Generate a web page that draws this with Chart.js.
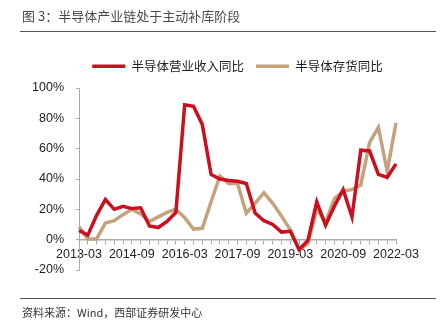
<!DOCTYPE html>
<html>
<head>
<meta charset="utf-8">
<script src="https://cdn.jsdelivr.net/npm/chart.js@4.4.0/dist/chart.umd.min.js"></script>
<style>
    body { margin: 0; background: #fff; }
    #wrap { position: relative; width: 442px; height: 327px; overflow: hidden; }
    #grafico { position: absolute; left: 0; top: 0; }
    .titulo { position: absolute; left: 22px; top: 6px; font: 13px "Noto Sans CJK SC"; color: #4a4a4a; }
    .fuente { position: absolute; left: 22px; top: 304px; font: 11px "Noto Sans CJK SC"; color: #333; }
    .regla { position: absolute; left: 20px; width: 416px; height: 1px; background: #555; }
</style>
</head>
<body>
<div id="wrap">
    <canvas id="grafico" width="442" height="327"></canvas>
    <div class="titulo">图 3：半导体产业链处于主动补库阶段</div>
    <div class="regla" style="top:31px"></div>
    <div class="regla" style="top:298px"></div>
    <div class="fuente">资料来源：Wind，西部证券研发中心</div>
</div>
<script>
// 季度标签 2013-03 ... 2022-03
const trimestres = [];
for (let a = 2013; a <= 2022; a++) {
    ['03', '06', '09', '12'].forEach(m => trimestres.push(a + '-' + m));
}
trimestres.length = 37;

// 数值读自原图 (%)
const ingresos = [6, 3, 16, 26.5, 20, 22, 20.5, 21, 9, 8, 12, 18, 89, 88, 76, 43, 40, 39, 38.5, 37,
    17.5, 12.5, 10, 5, 5.5, -6.5, -0.5, 25, 9.5, 22, 33, 15, 59, 58.5, 43, 41, 50];
const existencias = [8.5, 0.5, 0.5, 11, 12.5, 16.5, 20, 17, 12, 15, 18, 20, 14.5, 7, 7.5, 25, 42, 37, 37, 17.5,
    24, 31, 24, 15.5, 6.5, -7, -2.5, 20, 11.5, 27, 32, 33, 36, 64, 74, 45, 77];
const seriesNombres = ['半导体营业收入同比', '半导体存货同比'];
const colores = ['#CC0E1E', '#C4A27C'];

// deja un poco más de aire bajo la leyenda
const espacioLeyenda = {
    id: 'espacioLeyenda',
    beforeLayout(chart) {
        const lg = chart.legend;
        if (lg && !lg._parcheado) {
            const fitOrig = lg.fit;
            lg.fit = function () { fitOrig.call(this); this.height += 5.5; };
            lg._parcheado = true;
        }
    }
};

new Chart(document.getElementById('grafico').getContext('2d'), {
    type: 'line',
    data: {
        labels: trimestres,
        datasets: [
            { label: seriesNombres[0], data: ingresos, borderColor: colores[0], backgroundColor: colores[0], borderWidth: 3.5, pointRadius: 0, tension: 0 },
            { label: seriesNombres[1], data: existencias, borderColor: colores[1], backgroundColor: colores[1], borderWidth: 3.5, pointRadius: 0, tension: 0 }
        ]
    },
    options: {
        responsive: false,
        animation: false,
        layout: { padding: { left: 0, right: 46, top: 48, bottom: 57 } },
        plugins: {
            tooltip: { enabled: false },
            legend: {
                position: 'top',
                fullSize: false,
                labels: {
                    boxWidth: 33,
                    boxHeight: 3.5,
                    padding: 12,
                    color: '#222',
                    font: { family: 'Noto Sans CJK SC', size: 12.5 },
                    generateLabels: (chart) => Chart.defaults.plugins.legend.labels.generateLabels(chart).map(l => ({ ...l, lineWidth: 0 }))
                }
            }
        },
        scales: {
            x: {
                position: { y: 0 },
                offset: false,
                grid: { drawOnChartArea: false, drawTicks: true, tickLength: 4, color: '#aaa' },
                border: { color: '#aaa', width: 1.5 },
                ticks: {
                    autoSkip: false,
                    maxRotation: 0,
                    minRotation: 0,
                    padding: 3,
                    color: '#222',
                    font: { family: 'Liberation Sans', size: 12.5 },
                    callback: function (v, i) { return i % 6 === 0 ? this.getLabelForValue(v) : ''; }
                }
            },
            y: {
                min: -20,
                max: 100,
                afterFit: (s) => { s.width = 79; },
                grid: { drawOnChartArea: false, drawTicks: true, tickLength: 3, color: '#aaa' },
                border: { color: '#aaa', width: 1 },
                ticks: {
                    stepSize: 20,
                    padding: 12,
                    color: '#222',
                    font: { family: 'Liberation Sans', size: 12.5 },
                    callback: (v) => v + '%'
                }
            }
        }
    },
    plugins: [espacioLeyenda]
});
</script>
</body>
</html>
